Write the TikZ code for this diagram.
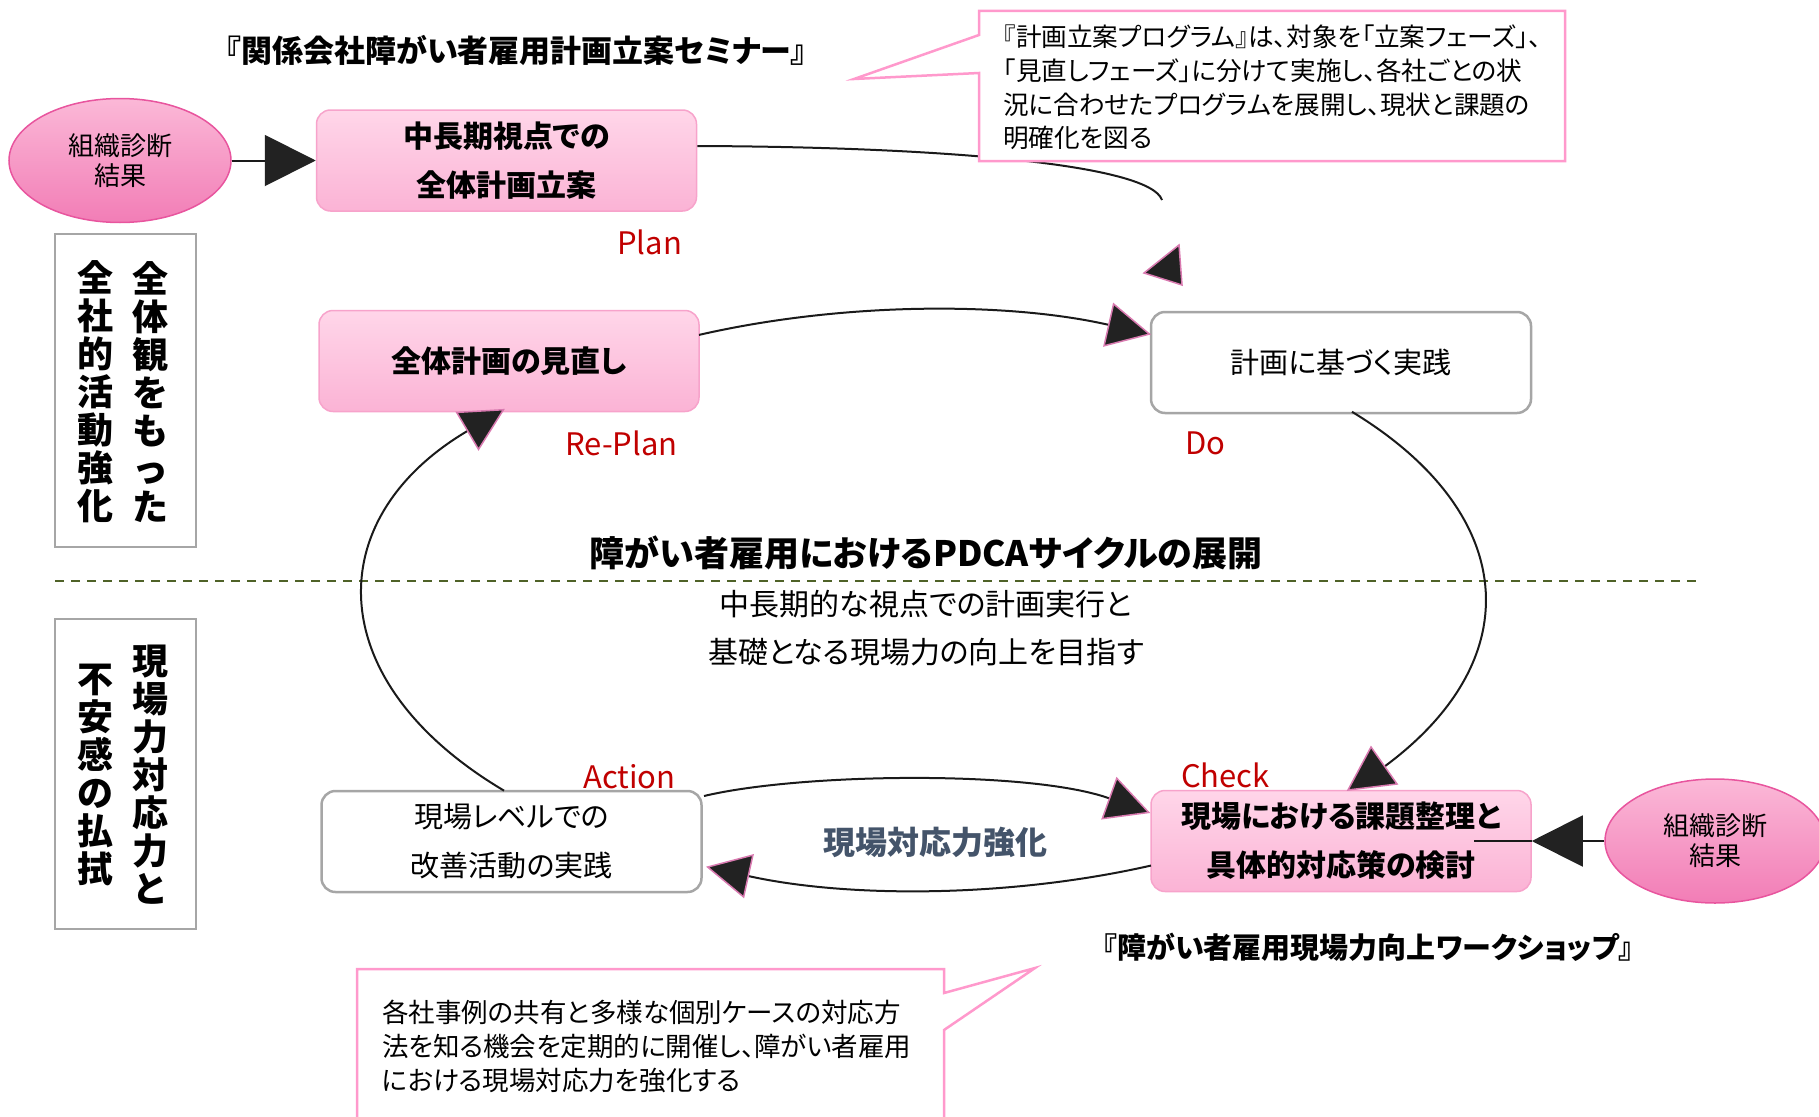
\documentclass[tikz,border=0pt]{standalone}
\usepackage{fontspec}
\usetikzlibrary{arrows.meta,shapes.geometric,calc}
\newfontfamily\jp[RawFeature=+palt]{Noto Sans CJK JP}
\newfontfamily\jpv{Noto Sans CJK JP}
\definecolor{pinkTop}{HTML}{FFD6E9}
\definecolor{pinkBot}{HTML}{FBB3D5}
\definecolor{pinkBd}{HTML}{F7A3CB}
\definecolor{ellTop}{HTML}{FBB8D7}
\definecolor{ellBot}{HTML}{F27DB6}
\definecolor{ellBd}{HTML}{E8559E}
\definecolor{grayBd}{HTML}{A6A6A6}
\definecolor{redLbl}{HTML}{C00000}
\definecolor{calBd}{HTML}{FF99CC}
\definecolor{dashC}{HTML}{4F6228}
\definecolor{aFill}{HTML}{222222}
\definecolor{aPink}{HTML}{D97AB0}
\definecolor{lineC}{HTML}{1A1A1A}
\definecolor{slate}{HTML}{44546A}
\begin{document}
\begin{tikzpicture}[x=1pt,y=-1pt,
 pinkbox/.style={draw=pinkBd, line width=1.5pt, rounded corners=14pt, top color=pinkTop, bottom color=pinkBot, minimum width=380pt, minimum height=101pt, inner sep=0pt, align=center, font=\jp\bfseries\fontsize{30}{49}\selectfont},
 whitebox/.style={draw=grayBd, line width=2.5pt, rounded corners=14pt, fill=white, minimum width=380pt, minimum height=101pt, inner sep=0pt, align=center, font=\jp\fontsize{29}{49}\selectfont},
 diag/.style={ellipse, draw=ellBd, line width=1.5pt, top color=ellTop, bottom color=ellBot, minimum width=222pt, minimum height=124pt, inner sep=0pt, align=center, font=\jp\fontsize{26}{30}\selectfont},
 sidebox/.style={draw=grayBd, line width=2.5pt, minimum width=141pt, inner sep=0pt},
 vcol/.style={inner sep=0pt, align=center, font=\jpv\bfseries\fontsize{36}{38}\selectfont},
 lbl/.style={text=redLbl, font=\jp\fontsize{31}{31}\selectfont, anchor=west, inner sep=0pt},
 cyc/.style={line width=2pt, draw=lineC, -{Triangle[length=44pt,width=45pt,fill=aFill,color=aPink,line width=1.5pt]}},
 cycplain/.style={line width=2pt, draw=lineC},
 feed/.style={line width=2pt, draw=lineC, -{Triangle[length=51pt,width=51pt,fill=aFill,color=aFill]}},
 callout/.style={draw=calBd, line width=2.5pt, fill=white, line join=miter},
 headtxt/.style={inner sep=0pt, font=\jp\bfseries\fontsize{31}{31}\selectfont},
 caltxt/.style={inner sep=0pt, anchor=west, align=left, font=\jp\fontsize{26}{33.7}\selectfont}
]
\useasboundingbox (0,0) rectangle (1819,1116);

% titles
\node[headtxt] (t1) at (516,50) {『関係会社障がい者雇用計画立案セミナー』};
\node[headtxt, font=\jp\bfseries\fontsize{29}{29}\selectfont] (t2) at (1368,947) {『障がい者雇用現場力向上ワークショップ』};

% dashed divider
\draw[dashC, line width=1.5pt, dash pattern=on 9pt off 7pt] (55,581) -- (1697,581);

% side boxes
\node[sidebox, minimum height=313pt] (sb1) at (125.5,390.5) {};
\node[vcol] (sb1r) at (150,392) {全\\体\\観\\を\\も\\っ\\た};
\node[vcol] (sb1l) at (95,392) {全\\社\\的\\活\\動\\強\\化};
\node[sidebox, minimum height=310pt] (sb2) at (125.5,774) {};
\node[vcol] (sb2r) at (150,775) {現\\場\\力\\対\\応\\力\\と};
\node[vcol] (sb2l) at (95,775) {不\\安\\感\\の\\払\\拭};

% main boxes
\node[pinkbox] (plan) at (506.5,160.5) {中長期視点での\\全体計画立案};
\node[pinkbox] (replan) at (509,361) {全体計画の見直し};
\node[whitebox] (do) at (1341,362.5) {計画に基づく実践};
\node[whitebox] (act) at (511.5,841.5) {現場レベルでの\\改善活動の実践};
\node[pinkbox] (chk) at (1341,841) {現場における課題整理と\\具体的対応策の検討};

% ellipses
\node[diag] (e1) at (120,160.5) {組織診断\\結果};
\node[diag, minimum width=220pt] (e2) at (1715,841) {組織診断\\結果};

% red labels
\node[lbl] (lplan) at (617,242) {Plan};
\node[lbl] (lreplan) at (565,443) {Re-Plan};
\node[lbl] (ldo) at (1185,443) {Do};
\node[lbl] (lact) at (583,777) {Action};
\node[lbl] (lchk) at (1181,775) {Check};

% center texts
\node[inner sep=0pt, font=\jp\bfseries\fontsize{35}{35}\selectfont] (ctitle) at (926,553) {障がい者雇用におけるPDCAサイクルの展開};
\node[inner sep=0pt, align=center, font=\jp\fontsize{30}{48}\selectfont] (ctext) at (926,628) {中長期的な視点での計画実行と\\基礎となる現場力の向上を目指す};
\node[inner sep=0pt, text=slate, font=\jp\bfseries\fontsize{32}{32}\selectfont] (strong) at (935,842) {現場対応力強化};

% cycle
\coordinate (cyc) at (926,600);
\coordinate (rpS) at ($(cyc)+(-113.91:560 and 290)$);
\coordinate (doS) at ($(cyc)+(-40.47:560 and 290)$);
\coordinate (chS) at ($(cyc)+(66.31:560 and 290)$);
\coordinate (acS) at ($(cyc)+(138.9:560 and 290)$);
\draw[cyc] (rpS) arc[start angle=-113.91, end angle=-66.31, x radius=560, y radius=290];
\draw[cycplain] (doS) arc[start angle=-40.47, end angle=35, x radius=560, y radius=290];
\draw[cyc] (chS) arc[start angle=66.31, end angle=113.13, x radius=560, y radius=290];
\draw[cyc] (acS) arc[start angle=138.9, end angle=221.23, x radius=560, y radius=290];
\coordinate (acE) at (704,796);
\draw[cyc] (acE) .. controls (800,773) and (1030,770) .. ($(chk.west)+(0,-28)$);

% plan curve with loose head
\coordinate (pEnd) at (1162,200);
\draw[cycplain] ($(plan.east)+(0,-14.5)$) .. controls (950,147) and (1150,165) .. (pEnd);
\fill[aFill, draw=aPink, line width=1.5pt, line join=miter] (1179,245) -- (1144,273) -- (1182,285) -- cycle;
\fill[aFill, draw=aPink, line width=1.5pt, line join=miter] (1371,747) -- (1348,790) -- (1397,784) -- cycle;

% feed arrows
\draw[feed] (e1.east) -- (plan.west);
\draw[feed] (e2.west) -- (chk.east);
\draw[line width=2pt, draw=lineC] (chk.east) -- ++(-58,0);

% callouts
\draw[callout] (979,11) -- (1565,11) -- (1565,161) -- (979,161) -- (979,73) -- (854,79) -- (979,35) -- cycle;
\node[caltxt, font=\jp\fontsize{25.6}{33.7}\selectfont] (c1) at (1003,87.5) {『計画立案プログラム』は、対象を「立案フェーズ」、\\「見直しフェーズ」に分けて実施し、各社ごとの状\\況に合わせたプログラムを展開し、現状と課題の\\明確化を図る};
\draw[callout] (357,1130) -- (357,969) -- (944,969) -- (944,993) -- (1035,968) -- (944,1030) -- (944,1130);
\node[caltxt, font=\jp\fontsize{26.5}{34}\selectfont] (c2) at (382,1046) {各社事例の共有と多様な個別ケースの対応方\\法を知る機会を定期的に開催し、障がい者雇用\\における現場対応力を強化する};
\end{tikzpicture}
\end{document}
